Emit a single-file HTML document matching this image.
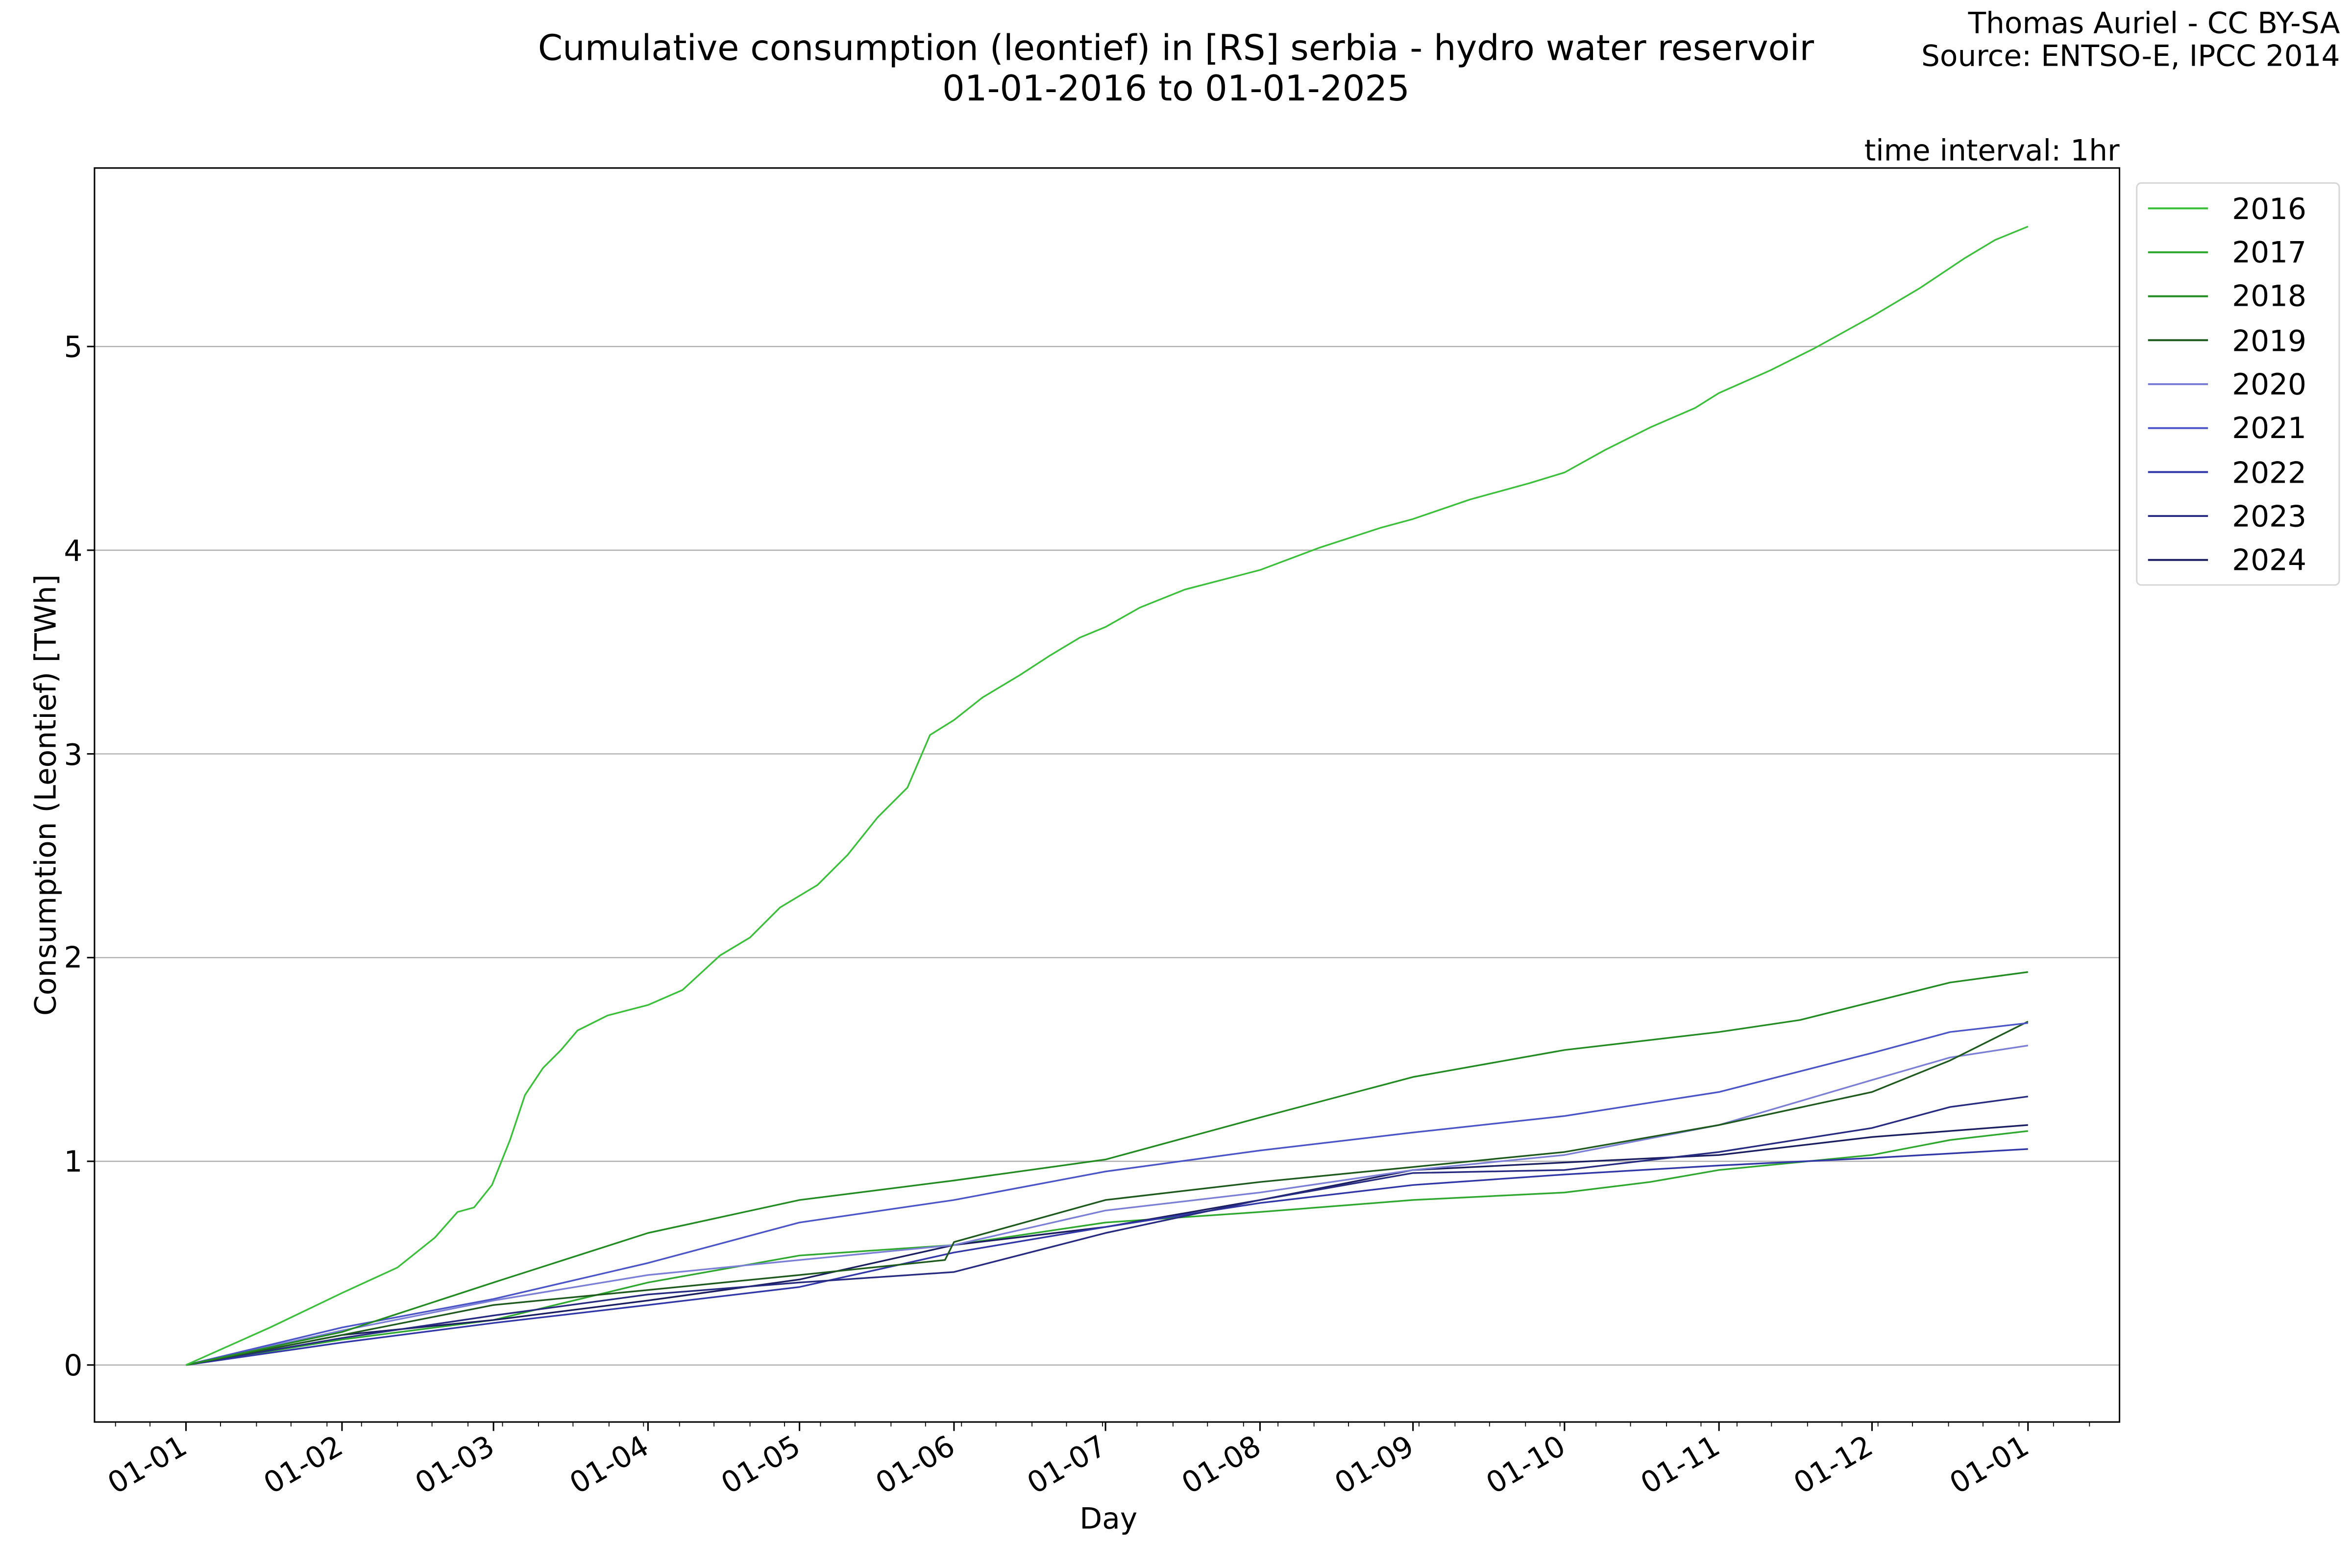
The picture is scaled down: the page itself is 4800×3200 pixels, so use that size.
<!DOCTYPE html>
<html><head><meta charset="utf-8"><style>html,body{margin:0;padding:0;background:#fff}svg{display:block}</style></head><body>
<svg width="4800" height="3200" viewBox="0 0 1568 1045.33" xmlns="http://www.w3.org/2000/svg" font-family="'DejaVu Sans','Liberation Sans',sans-serif">
<rect width="1568" height="1046" fill="#fff"/>
<text x="784" y="40" font-size="23.5" text-anchor="middle">Cumulative consumption (leontief) in [RS] serbia - hydro water reservoir</text>
<text x="784" y="67" font-size="23.5" text-anchor="middle">01-01-2016 to 01-01-2025</text>
<text x="1560" y="22" font-size="19.5" text-anchor="end">Thomas Auriel - CC BY-SA</text>
<text x="1560" y="44" font-size="19.5" text-anchor="end">Source: ENTSO-E, IPCC 2014</text>
<text x="1413" y="107" font-size="19.5" text-anchor="end">time interval: 1hr</text>
<g stroke="#b0b0b0" stroke-width="0.8">
<line x1="63" x2="1413" y1="910" y2="910"/><line x1="63" x2="1413" y1="774.2" y2="774.2"/><line x1="63" x2="1413" y1="638.4" y2="638.4"/><line x1="63" x2="1413" y1="502.6" y2="502.6"/><line x1="63" x2="1413" y1="366.8" y2="366.8"/><line x1="63" x2="1413" y1="231" y2="231"/>
</g>
<g font-size="19.5" text-anchor="end">
<text x="55" y="917">0</text><text x="55" y="781">1</text><text x="55" y="645">2</text><text x="55" y="510">3</text><text x="55" y="374">4</text><text x="55" y="238">5</text>
</g>
<g stroke="#000" stroke-width="1">
<line x1="58" x2="63" y1="910" y2="910"/><line x1="58" x2="63" y1="774.2" y2="774.2"/><line x1="58" x2="63" y1="638.4" y2="638.4"/><line x1="58" x2="63" y1="502.6" y2="502.6"/><line x1="58" x2="63" y1="366.8" y2="366.8"/><line x1="58" x2="63" y1="231" y2="231"/>
</g>
<text transform="translate(37,530) rotate(-90)" font-size="19.5" text-anchor="middle">Consumption (Leontief) [TWh]</text>
<text x="739" y="1019" font-size="19.5" text-anchor="middle">Day</text>
<g font-size="19.5" text-anchor="end">
<text transform="translate(126,968) rotate(-30)">01-01</text>
<text transform="translate(230,968) rotate(-30)">01-02</text>
<text transform="translate(331,968) rotate(-30)">01-03</text>
<text transform="translate(434,968) rotate(-30)">01-04</text>
<text transform="translate(535,968) rotate(-30)">01-05</text>
<text transform="translate(638,968) rotate(-30)">01-06</text>
<text transform="translate(739,968) rotate(-30)">01-07</text>
<text transform="translate(842,968) rotate(-30)">01-08</text>
<text transform="translate(944,968) rotate(-30)">01-09</text>
<text transform="translate(1045,968) rotate(-30)">01-10</text>
<text transform="translate(1148,968) rotate(-30)">01-11</text>
<text transform="translate(1250,968) rotate(-30)">01-12</text>
<text transform="translate(1354,968) rotate(-30)">01-01</text>
</g>
<g stroke="#000" stroke-width="1">
<path d="M124 948v6M228 948v6M329 948v6M432 948v6M533 948v6M636 948v6M737 948v6M840 948v6M942 948v6M1043 948v6M1146 948v6M1248 948v6M1352 948v6"/>
<path stroke-width="0.6" d="M77 948v3M100 948v3M147 948v3M171 948v3M194 948v3M218 948v3M241 948v3M265 948v3M288 948v3M312 948v3M335 948v3M359 948v3M382 948v3M406 948v3M429 948v3M453 948v3M476 948v3M500 948v3M523 948v3M547 948v3M570 948v3M594 948v3M617 948v3M641 948v3M664 948v3M688 948v3M711 948v3M735 948v3M758 948v3M782 948v3M805 948v3M829 948v3M852 948v3M876 948v3M899 948v3M923 948v3M946 948v3M970 948v3M993 948v3M1017 948v3M1040 948v3M1064 948v3M1087 948v3M1111 948v3M1134 948v3M1158 948v3M1181 948v3M1205 948v3M1228 948v3M1252 948v3M1275 948v3M1299 948v3M1322 948v3M1346 948v3M1369 948v3M1393 948v3"/>
</g>
<g fill="none" stroke-width="1.1" stroke-linejoin="round">
<polyline stroke="#2ea82e" points="124,910 228,893 329,880 432,855 533,837 636,830 737,815 840,808 942,800 1043,795 1100,788 1146,780 1248,770 1300,760 1352,754"/>
<polyline stroke="#1a1e60" points="124,910 228,890 329,880 432,867 533,853 636,830 737,818 840,800 942,780 1043,775 1146,770 1248,758 1352,750"/>
<polyline stroke="#3237a8" points="124,910 228,895 329,882 432,870 533,858 636,835 737,818 840,802 942,790 1043,783 1146,777 1248,772 1352,766"/>
<polyline stroke="#262a80" points="124,910 228,892 329,877 432,863 533,855 636,848 737,822 840,800 942,782 1043,780 1146,768 1248,752 1300,738 1352,731"/>
<polyline stroke="#7b7fd6" points="124,910 228,887 329,867 432,850 533,840 636,830 737,807 840,795 942,780 1043,770 1146,750 1248,720 1300,705 1352,697"/>
<polyline stroke="#1e5a1e" points="124,910 228,890 329,870 432,860 533,850 630,840 636,828 737,800 840,788 942,778 1043,768 1146,750 1248,728 1300,707 1352,681"/>
<polyline stroke="#4b55c8" points="124,910 228,885 329,866 432,842 533,815 636,800 737,781 840,767 942,755 1043,744 1146,728 1248,702 1300,688 1352,682"/>
<polyline stroke="#228b22" points="124,910 228,888 329,855 432,822 533,800 636,787 737,773 840,745 942,718 1043,700 1146,688 1200,680 1248,668 1300,655 1352,648"/>
<polyline stroke="#3cc03c" points="124,910 180,885 228,862 265,845 290,825 305,808 316,805 328,790 340,760 350,730 362,712 374,700 385,687 405,677 432,670 455,660 480,637 500,625 520,605 545,590 565,570 585,545 605,525 620,490 636,480 655,465 680,450 700,437 720,425 737,418 760,405 790,393 840,380 880,365 920,352 942,346 980,333 1020,322 1043,315 1070,300 1100,285 1130,272 1146,262 1180,247 1210,232 1248,211 1280,192 1310,172 1330,160 1352,151"/>
</g>
<rect x="63" y="112" width="1350" height="836" fill="none" stroke="#000" stroke-width="1"/>
<rect x="1424.5" y="122" width="135" height="268" rx="3" fill="#fff" stroke="#d6d6d6" stroke-width="1"/>
<g stroke-width="1.3">
<line x1="1432" x2="1472" y1="138.9" y2="138.9" stroke="#3cc03c"/>
<line x1="1432" x2="1472" y1="168.2" y2="168.2" stroke="#2ea82e"/>
<line x1="1432" x2="1472" y1="197.5" y2="197.5" stroke="#228b22"/>
<line x1="1432" x2="1472" y1="226.8" y2="226.8" stroke="#1e5a1e"/>
<line x1="1432" x2="1472" y1="256.1" y2="256.1" stroke="#7b7fd6"/>
<line x1="1432" x2="1472" y1="285.4" y2="285.4" stroke="#4b55c8"/>
<line x1="1432" x2="1472" y1="314.7" y2="314.7" stroke="#3237a8"/>
<line x1="1432" x2="1472" y1="344" y2="344" stroke="#262a80"/>
<line x1="1432" x2="1472" y1="373.3" y2="373.3" stroke="#1a1e60"/>
</g>
<g font-size="19.5">
<text x="1488" y="146">2016</text><text x="1488" y="175">2017</text><text x="1488" y="204">2018</text><text x="1488" y="234">2019</text><text x="1488" y="263">2020</text><text x="1488" y="292">2021</text><text x="1488" y="322">2022</text><text x="1488" y="351">2023</text><text x="1488" y="380">2024</text>
</g>
</svg>
</body></html>
